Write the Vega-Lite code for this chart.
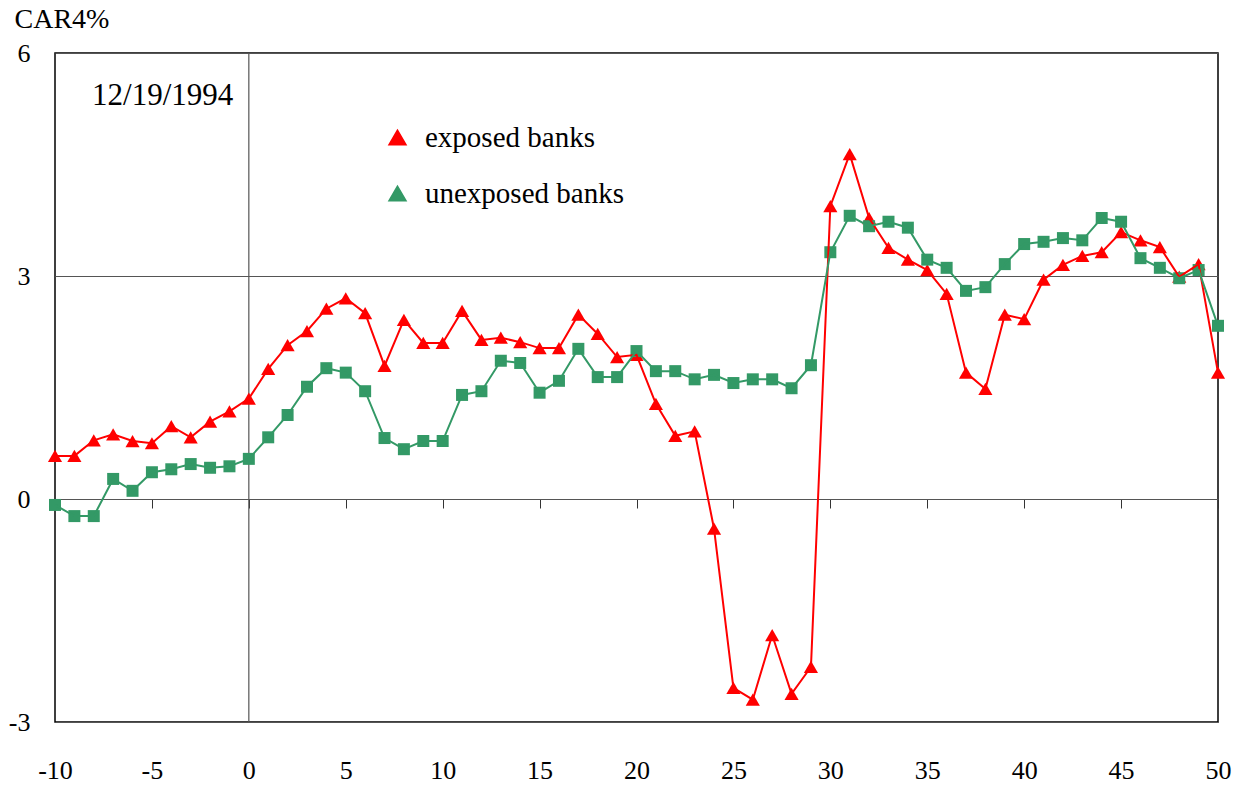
{
  "$schema": "https://vega.github.io/schema/vega-lite/v6.json",
  "width": 1163,
  "height": 669,
  "autosize": {"type": "none"},
  "padding": {"left": 55, "top": 53, "right": 22, "bottom": 64},
  "background": "white",
  "config": {
    "view": {"stroke": "black", "strokeWidth": 1.5},
    "font": "Liberation Serif"
  },
  "datasets": {
    "car": [
      {"day": -10, "series": "exposed banks", "car": 0.58},
      {"day": -9, "series": "exposed banks", "car": 0.58},
      {"day": -8, "series": "exposed banks", "car": 0.79},
      {"day": -7, "series": "exposed banks", "car": 0.87},
      {"day": -6, "series": "exposed banks", "car": 0.78},
      {"day": -5, "series": "exposed banks", "car": 0.75},
      {"day": -4, "series": "exposed banks", "car": 0.98},
      {"day": -3, "series": "exposed banks", "car": 0.83},
      {"day": -2, "series": "exposed banks", "car": 1.04},
      {"day": -1, "series": "exposed banks", "car": 1.18},
      {"day": 0, "series": "exposed banks", "car": 1.35},
      {"day": 1, "series": "exposed banks", "car": 1.75},
      {"day": 2, "series": "exposed banks", "car": 2.07},
      {"day": 3, "series": "exposed banks", "car": 2.26},
      {"day": 4, "series": "exposed banks", "car": 2.56},
      {"day": 5, "series": "exposed banks", "car": 2.70},
      {"day": 6, "series": "exposed banks", "car": 2.50},
      {"day": 7, "series": "exposed banks", "car": 1.79},
      {"day": 8, "series": "exposed banks", "car": 2.41},
      {"day": 9, "series": "exposed banks", "car": 2.10},
      {"day": 10, "series": "exposed banks", "car": 2.10},
      {"day": 11, "series": "exposed banks", "car": 2.53},
      {"day": 12, "series": "exposed banks", "car": 2.14},
      {"day": 13, "series": "exposed banks", "car": 2.17},
      {"day": 14, "series": "exposed banks", "car": 2.11},
      {"day": 15, "series": "exposed banks", "car": 2.03},
      {"day": 16, "series": "exposed banks", "car": 2.03},
      {"day": 17, "series": "exposed banks", "car": 2.48},
      {"day": 18, "series": "exposed banks", "car": 2.22},
      {"day": 19, "series": "exposed banks", "car": 1.91},
      {"day": 20, "series": "exposed banks", "car": 1.94},
      {"day": 21, "series": "exposed banks", "car": 1.28},
      {"day": 22, "series": "exposed banks", "car": 0.85},
      {"day": 23, "series": "exposed banks", "car": 0.91},
      {"day": 24, "series": "exposed banks", "car": -0.40},
      {"day": 25, "series": "exposed banks", "car": -2.54},
      {"day": 26, "series": "exposed banks", "car": -2.70},
      {"day": 27, "series": "exposed banks", "car": -1.83},
      {"day": 28, "series": "exposed banks", "car": -2.62},
      {"day": 29, "series": "exposed banks", "car": -2.26},
      {"day": 30, "series": "exposed banks", "car": 3.94},
      {"day": 31, "series": "exposed banks", "car": 4.64},
      {"day": 32, "series": "exposed banks", "car": 3.78},
      {"day": 33, "series": "exposed banks", "car": 3.38},
      {"day": 34, "series": "exposed banks", "car": 3.22},
      {"day": 35, "series": "exposed banks", "car": 3.08},
      {"day": 36, "series": "exposed banks", "car": 2.76},
      {"day": 37, "series": "exposed banks", "car": 1.70},
      {"day": 38, "series": "exposed banks", "car": 1.48},
      {"day": 39, "series": "exposed banks", "car": 2.48},
      {"day": 40, "series": "exposed banks", "car": 2.42},
      {"day": 41, "series": "exposed banks", "car": 2.95},
      {"day": 42, "series": "exposed banks", "car": 3.15},
      {"day": 43, "series": "exposed banks", "car": 3.27},
      {"day": 44, "series": "exposed banks", "car": 3.32},
      {"day": 45, "series": "exposed banks", "car": 3.59},
      {"day": 46, "series": "exposed banks", "car": 3.48},
      {"day": 47, "series": "exposed banks", "car": 3.39},
      {"day": 48, "series": "exposed banks", "car": 2.99},
      {"day": 49, "series": "exposed banks", "car": 3.16},
      {"day": 50, "series": "exposed banks", "car": 1.70},
      {"day": -10, "series": "unexposed banks", "car": -0.08},
      {"day": -9, "series": "unexposed banks", "car": -0.23},
      {"day": -8, "series": "unexposed banks", "car": -0.23},
      {"day": -7, "series": "unexposed banks", "car": 0.27},
      {"day": -6, "series": "unexposed banks", "car": 0.11},
      {"day": -5, "series": "unexposed banks", "car": 0.36},
      {"day": -4, "series": "unexposed banks", "car": 0.40},
      {"day": -3, "series": "unexposed banks", "car": 0.47},
      {"day": -2, "series": "unexposed banks", "car": 0.42},
      {"day": -1, "series": "unexposed banks", "car": 0.44},
      {"day": 0, "series": "unexposed banks", "car": 0.54},
      {"day": 1, "series": "unexposed banks", "car": 0.83},
      {"day": 2, "series": "unexposed banks", "car": 1.13},
      {"day": 3, "series": "unexposed banks", "car": 1.51},
      {"day": 4, "series": "unexposed banks", "car": 1.76},
      {"day": 5, "series": "unexposed banks", "car": 1.70},
      {"day": 6, "series": "unexposed banks", "car": 1.45},
      {"day": 7, "series": "unexposed banks", "car": 0.82},
      {"day": 8, "series": "unexposed banks", "car": 0.67},
      {"day": 9, "series": "unexposed banks", "car": 0.78},
      {"day": 10, "series": "unexposed banks", "car": 0.78},
      {"day": 11, "series": "unexposed banks", "car": 1.40},
      {"day": 12, "series": "unexposed banks", "car": 1.45},
      {"day": 13, "series": "unexposed banks", "car": 1.86},
      {"day": 14, "series": "unexposed banks", "car": 1.83},
      {"day": 15, "series": "unexposed banks", "car": 1.43},
      {"day": 16, "series": "unexposed banks", "car": 1.59},
      {"day": 17, "series": "unexposed banks", "car": 2.02},
      {"day": 18, "series": "unexposed banks", "car": 1.64},
      {"day": 19, "series": "unexposed banks", "car": 1.64},
      {"day": 20, "series": "unexposed banks", "car": 1.99},
      {"day": 21, "series": "unexposed banks", "car": 1.72},
      {"day": 22, "series": "unexposed banks", "car": 1.72},
      {"day": 23, "series": "unexposed banks", "car": 1.61},
      {"day": 24, "series": "unexposed banks", "car": 1.67},
      {"day": 25, "series": "unexposed banks", "car": 1.56},
      {"day": 26, "series": "unexposed banks", "car": 1.61},
      {"day": 27, "series": "unexposed banks", "car": 1.61},
      {"day": 28, "series": "unexposed banks", "car": 1.49},
      {"day": 29, "series": "unexposed banks", "car": 1.80},
      {"day": 30, "series": "unexposed banks", "car": 3.32},
      {"day": 31, "series": "unexposed banks", "car": 3.81},
      {"day": 32, "series": "unexposed banks", "car": 3.67},
      {"day": 33, "series": "unexposed banks", "car": 3.73},
      {"day": 34, "series": "unexposed banks", "car": 3.65},
      {"day": 35, "series": "unexposed banks", "car": 3.22},
      {"day": 36, "series": "unexposed banks", "car": 3.11},
      {"day": 37, "series": "unexposed banks", "car": 2.80},
      {"day": 38, "series": "unexposed banks", "car": 2.85},
      {"day": 39, "series": "unexposed banks", "car": 3.16},
      {"day": 40, "series": "unexposed banks", "car": 3.43},
      {"day": 41, "series": "unexposed banks", "car": 3.46},
      {"day": 42, "series": "unexposed banks", "car": 3.51},
      {"day": 43, "series": "unexposed banks", "car": 3.48},
      {"day": 44, "series": "unexposed banks", "car": 3.78},
      {"day": 45, "series": "unexposed banks", "car": 3.73},
      {"day": 46, "series": "unexposed banks", "car": 3.24},
      {"day": 47, "series": "unexposed banks", "car": 3.11},
      {"day": 48, "series": "unexposed banks", "car": 2.97},
      {"day": 49, "series": "unexposed banks", "car": 3.08},
      {"day": 50, "series": "unexposed banks", "car": 2.33}
    ],
    "single": [{"note": "12/19/1994"}]
  },
  "layer": [
    {
      "data": {"name": "single"},
      "mark": {"type": "rule", "color": "#555555", "strokeWidth": 1.2},
      "encoding": {
        "x": {
          "datum": 0,
          "type": "quantitative",
          "scale": {"domain": [-10, 50], "nice": false, "zero": false},
          "axis": {
            "orient": "bottom",
            "offset": -223,
            "values": [-10, -5, 0, 5, 10, 15, 20, 25, 30, 35, 40, 45, 50],
            "labels": false,
            "title": null,
            "grid": false,
            "ticks": true,
            "tickSize": 9,
            "tickColor": "#333333",
            "tickWidth": 1,
            "domain": true,
            "domainColor": "#555555",
            "domainWidth": 1.2
          }
        }
      }
    },
    {
      "data": {"name": "car"},
      "transform": [{"filter": "datum.series === 'exposed banks'"}],
      "mark": {"type": "point", "filled": true, "opacity": 1, "shape": "triangle-up", "size": 200},
      "encoding": {
        "x": {
          "field": "day",
          "type": "quantitative",
          "scale": {"domain": [-10, 50], "nice": false, "zero": false},
          "axis": {
            "orient": "bottom",
            "values": [-10, -5, 0, 5, 10, 15, 20, 25, 30, 35, 40, 45, 50],
            "labelExpr": "'' + datum.value",
            "title": null,
            "grid": false,
            "ticks": false,
            "domain": false,
            "labelFont": "Liberation Serif",
            "labelFontSize": 26,
            "labelColor": "black",
            "labelBaseline": "middle",
            "labelPadding": 48,
            "labelFlush": false
          }
        },
        "y": {
          "field": "car",
          "type": "quantitative",
          "scale": {"domain": [-3, 6], "nice": false, "zero": false},
          "axis": {
            "values": [-3, 0, 3, 6],
            "labelExpr": "'' + datum.value",
            "grid": true,
            "gridColor": "#555555",
            "gridWidth": 1.2,
            "ticks": false,
            "domain": false,
            "labelFont": "Liberation Serif",
            "labelFontSize": 26,
            "labelColor": "black",
            "labelPadding": 25,
            "labelFlush": false,
            "title": "CAR4%",
            "titleAngle": 0,
            "titleAlign": "left",
            "titleBaseline": "top",
            "titleX": -41,
            "titleY": -48,
            "titleFont": "Liberation Serif",
            "titleFontSize": 28,
            "titleFontWeight": "normal",
            "titleColor": "black"
          }
        },
        "color": {
          "field": "series",
          "type": "nominal",
          "scale": {"domain": ["exposed banks", "unexposed banks"], "range": ["#FF0000", "#339966"]},
          "legend": {
            "orient": "none",
            "legendX": 328,
            "legendY": 70,
            "title": null,
            "padding": 0,
            "labelFont": "Liberation Serif",
            "labelFontSize": 29,
            "labelColor": "black",
            "labelOffset": 13,
            "labelLimit": 500,
            "rowPadding": 26,
            "symbolSize": 289,
            "encode": {
              "symbols": {
                "shape": {
                  "condition": {"test": "datum.value === 'exposed banks'", "value": "M-1.5,-0.06H1.5V0.06H-1.5ZM-0.45,0.38L0,-0.42L0.45,0.38Z"},
                  "value": "M-1.5,-0.06H1.5V0.06H-1.5ZM-0.33,-0.33H0.33V0.33H-0.33Z"
                },
                "size": {"value": 289},
                "fill": {
                  "condition": {"test": "datum.value === 'exposed banks'", "value": "#FF0000"},
                  "value": "#339966"
                },
                "strokeWidth": {"value": 0},
                "opacity": {"value": 1}
              }
            }
          }
        }
      }
    },
    {
      "data": {"name": "car"},
      "transform": [{"filter": "datum.series === 'unexposed banks'"}],
      "mark": {"type": "point", "filled": true, "opacity": 1, "shape": "square", "size": 144},
      "encoding": {
        "x": {"field": "day", "type": "quantitative", "axis": null},
        "y": {"field": "car", "type": "quantitative"},
        "color": {"field": "series", "type": "nominal"}
      }
    },
    {
      "data": {"name": "car"},
      "mark": {"type": "line", "strokeWidth": 2},
      "encoding": {
        "x": {"field": "day", "type": "quantitative", "axis": null},
        "y": {"field": "car", "type": "quantitative"},
        "color": {"field": "series", "type": "nominal"}
      }
    },
    {
      "data": {"name": "single"},
      "mark": {"type": "text", "align": "right", "baseline": "middle", "font": "Liberation Serif", "fontSize": 31, "color": "black"},
      "encoding": {
        "x": {"datum": -0.8, "type": "quantitative", "axis": null},
        "y": {"datum": 5.42, "type": "quantitative"},
        "text": {"field": "note"}
      }
    }
  ],
  "resolve": {"axis": {"x": "independent"}}
}
